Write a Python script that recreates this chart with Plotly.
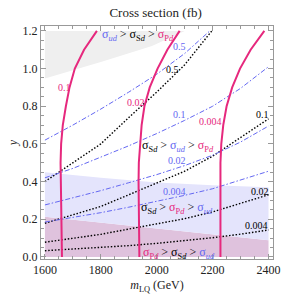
import plotly.graph_objects as go

# ---- data ----
m_grid = [1600, 1700, 1800, 1900, 2000, 2100, 2200, 2300, 2400]

# sigma_Sd contours (black dotted)
sd_05_m = [1600, 1700, 1800, 1900, 2000, 2100, 2197]
sd_05_y = [0.40, 0.50, 0.60, 0.74, 0.875, 1.02, 1.2]
sd_01_y = [0.179, 0.222, 0.268, 0.33, 0.392, 0.455, 0.535, 0.632, 0.733]
sd_002_y = [0.078, 0.099, 0.12, 0.148, 0.175, 0.203, 0.239, 0.283, 0.33]
sd_0004_y = [0.033, 0.041, 0.05, 0.06, 0.072, 0.086, 0.102, 0.121, 0.143]

# sigma_ud contours (blue dash-dot)
ud_05_m = [1600, 1700, 1800, 1900, 2000, 2100, 2190]
ud_05_y = [0.62, 0.70, 0.785, 0.875, 0.97, 1.08, 1.2]
ud_01_y = [0.42, 0.47, 0.53, 0.59, 0.655, 0.725, 0.80, 0.895, 1.01]
ud_002_y = [0.276, 0.313, 0.352, 0.394, 0.437, 0.485, 0.54, 0.61, 0.695]
ud_0004_y = [0.185, 0.209, 0.235, 0.264, 0.295, 0.327, 0.362, 0.41, 0.455]

# sigma_Pd contours (pink solid)
pd_y = [0.0, 0.2, 0.4, 0.5, 0.6, 0.7, 0.8, 0.9, 1.0, 1.1, 1.2]
pd_01_m = [1661, 1659, 1657, 1656, 1658, 1664, 1675, 1688, 1707, 1740, 1786]
pd_002_m = [1938, 1936, 1935, 1936, 1940, 1946, 1956, 1975, 2003, 2038, 2082]
pd_0004_m = [2228, 2227, 2227, 2228, 2231, 2238, 2250, 2270, 2298, 2336, 2385]

# shaded region boundaries
reg_m = [1600, 1800, 2000, 2200, 2400]
blue_top_y = [0.45, 0.42, 0.395, 0.38, 0.37]
pink_top_y = [0.213, 0.183, 0.152, 0.12, 0.089]
gray_m = [1600, 1800, 1983, 2100]
gray_y = [0.947, 1.035, 1.12, 1.2]

PINK = "#e6287d"
BLUE = "#6468f2"
FONT = "Liberation Serif"

fig = go.Figure()

# pink region (lowest)
fig.add_trace(go.Scatter(x=reg_m, y=pink_top_y, mode="lines", line=dict(width=0),
                         fill="tozeroy", fillcolor="#dfc2dd", hoverinfo="skip"))
# blue region between pink top and blue top
fig.add_trace(go.Scatter(x=reg_m, y=blue_top_y, mode="lines", line=dict(width=0),
                         fill="tonexty", fillcolor="#e4e4fc", hoverinfo="skip"))
# gray region
gx = gray_m + [gray_m[-1], gray_m[0]]
gy = gray_y + [1.2, 1.2]
fig.add_trace(go.Scatter(x=gx, y=gy, mode="lines", line=dict(width=0),
                         fill="toself", fillcolor="#efefef", hoverinfo="skip"))

blk = dict(color="black", width=1.4, dash="1.5px,1.8px")
blu = dict(color=BLUE, width=1, dash="5px,2px,1.5px,2px")
pnk = dict(color=PINK, width=2)

fig.add_trace(go.Scatter(x=sd_05_m, y=sd_05_y, mode="lines", line=blk))
for ys in (sd_01_y, sd_002_y, sd_0004_y):
    fig.add_trace(go.Scatter(x=m_grid, y=ys, mode="lines", line=blk))
fig.add_trace(go.Scatter(x=ud_05_m, y=ud_05_y, mode="lines", line=blu))
for ys in (ud_01_y, ud_002_y, ud_0004_y):
    fig.add_trace(go.Scatter(x=m_grid, y=ys, mode="lines", line=blu))
for ms in (pd_01_m, pd_002_m, pd_0004_m):
    fig.add_trace(go.Scatter(x=ms, y=pd_y, mode="lines", line=pnk))

# contour labels
labels = [
    ("0.1", 1669, 0.90, PINK), ("0.02", 1926, 0.822, PINK), ("0.004", 2191, 0.72, PINK),
    ("0.5", 2082, 1.119, BLUE), ("0.1", 2080, 0.758, BLUE), ("0.02", 2074, 0.51, BLUE),
    ("0.004", 2062, 0.347, BLUE),
    ("0.5", 2055, 0.994, "black"), ("0.1", 2379, 0.758, "black"),
    ("0.02", 2368, 0.347, "black"), ("0.004", 2356, 0.166, "black"),
]
for t, x, y, c in labels:
    fig.add_annotation(x=x, y=y, text=t, showarrow=False,
                       font=dict(family=FONT, size=10, color=c))

s_ud = '<span style="color:%s">σ<sub><i>ud</i></sub></span>' % BLUE
s_sd = 'σ<sub>S<i>d</i></sub>'
s_pd = '<span style="color:%s">σ<sub>P<i>d</i></sub></span>' % PINK
regions = [
    (s_ud + " > " + s_sd + " > " + s_pd, 1932, 1.178),
    (s_sd + " > " + s_ud + " > " + s_pd, 2075, 0.59),
    (s_sd + " > " + s_pd + " > " + s_ud, 2072, 0.262),
    (s_pd + " > " + s_sd + " > " + s_ud, 2079, 0.022),
]
for t, x, y in regions:
    fig.add_annotation(x=x, y=y, text=t, showarrow=False,
                       font=dict(family=FONT, size=12, color="black"))

axis_common = dict(showline=True, linecolor="#999999", linewidth=1, mirror="allticks",
                   ticks="inside", ticklen=5, tickcolor="#999999", showgrid=False,
                   zeroline=False, tickfont=dict(family=FONT, size=12, color="#222222"))
fig.update_xaxes(range=[1586, 2416], tickvals=[1600, 1800, 2000, 2200, 2400],
                 minor=dict(dtick=50, tick0=1600, ticks="inside", ticklen=3,
                            tickcolor="#999999"),
                 title=dict(text="<i>m</i><sub>LQ</sub> (GeV)", standoff=4,
                            font=dict(family=FONT, size=12, color="#222222")),
                 **axis_common)
fig.update_yaxes(range=[-0.011, 1.226], tickvals=[0, 0.2, 0.4, 0.6, 0.8, 1.0, 1.2],
                 ticktext=["0.0", "0.2", "0.4", "0.6", "0.8", "1.0", "1.2"],
                 minor=dict(dtick=0.05, tick0=0, ticks="inside", ticklen=3,
                            tickcolor="#999999"),
                 title=dict(text="<i>y</i>", standoff=2,
                            font=dict(family=FONT, size=12, color="#222222")),
                 **axis_common)

fig.update_layout(
    width=292, height=302,
    margin=dict(l=34, r=15, t=26, b=36),
    paper_bgcolor="white", plot_bgcolor="white",
    showlegend=False,
    title=dict(text="Cross section (fb)", x=0.533, xanchor="center", y=0.96, yanchor="middle",
               font=dict(family=FONT, size=13, color="#222222")),
)

fig.write_html("out.html", config={"displayModeBar": False},
               post_script="document.body.style.margin='0';document.body.style.overflow='hidden';")
